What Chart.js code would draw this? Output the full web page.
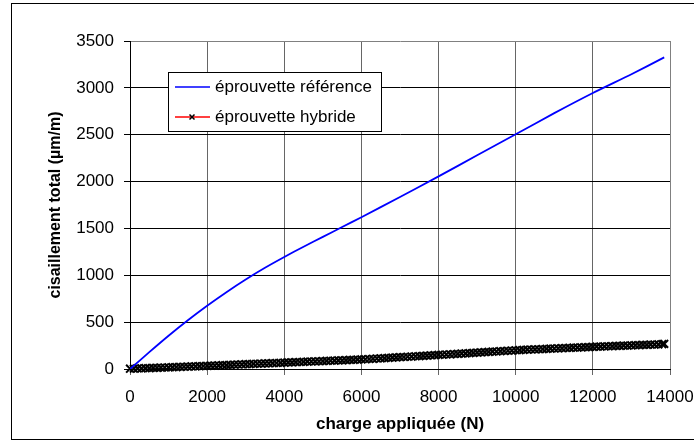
<!DOCTYPE html>
<html>
<head>
<meta charset="utf-8">
<script src="https://cdn.jsdelivr.net/npm/chart.js@4"></script>
<style>
  body { margin: 0; background: #fff; }
  canvas { display: block; }
</style>
</head>
<body>
<canvas id="chart" width="694" height="442"></canvas>
<script>
// axis ticks
const xTicks = [0, 2000, 4000, 6000, 8000, 10000, 12000, 14000];
const yTicks = [0, 500, 1000, 1500, 2000, 2500, 3000, 3500];

// éprouvette référence (N, µm/m)
const refLoad = [0, 500, 1000, 1500, 2000, 2500, 3000, 3500, 4000, 4500,
  5000, 5500, 6000, 7000, 8000, 9000, 10000, 11000, 12000, 13000, 13850];
const refShear = [0, 180, 355, 520, 675, 820, 955, 1080, 1195, 1305,
  1410, 1515, 1620, 1835, 2055, 2280, 2505, 2730, 2945, 3145, 3325];

// éprouvette hybride (N, µm/m) - dense measurement points
const hybLoad = [
  0, 100, 200, 300, 400, 500, 600, 700, 800, 900,
  1000, 1100, 1200, 1300, 1400, 1500, 1600, 1700, 1800, 1900,
  2000, 2100, 2200, 2300, 2400, 2500, 2600, 2700, 2800, 2900,
  3000, 3100, 3200, 3300, 3400, 3500, 3600, 3700, 3800, 3900,
  4000, 4100, 4200, 4300, 4400, 4500, 4600, 4700, 4800, 4900,
  5000, 5100, 5200, 5300, 5400, 5500, 5600, 5700, 5800, 5900,
  6000, 6100, 6200, 6300, 6400, 6500, 6600, 6700, 6800, 6900,
  7000, 7100, 7200, 7300, 7400, 7500, 7600, 7700, 7800, 7900,
  8000, 8100, 8200, 8300, 8400, 8500, 8600, 8700, 8800, 8900,
  9000, 9100, 9200, 9300, 9400, 9500, 9600, 9700, 9800, 9900,
  10000, 10100, 10200, 10300, 10400, 10500, 10600, 10700, 10800, 10900,
  11000, 11100, 11200, 11300, 11400, 11500, 11600, 11700, 11800, 11900,
  12000, 12100, 12200, 12300, 12400, 12500, 12600, 12700, 12800, 12900,
  13000, 13100, 13200, 13300, 13400, 13500, 13600, 13700, 13800, 13850
];
const hybShear = [
  3, 4, 6, 7, 9, 10, 12, 13, 15, 16,
  18, 19, 21, 23, 24, 26, 27, 29, 31, 32,
  34, 36, 37, 39, 41, 42, 44, 46, 48, 49,
  51, 53, 54, 56, 58, 59, 61, 63, 64, 66,
  68, 70, 71, 73, 75, 76, 78, 80, 81, 83,
  85, 87, 88, 90, 92, 93, 95, 97, 98, 100,
  102, 104, 107, 109, 112, 114, 116, 119, 121, 124,
  126, 128, 131, 133, 136, 138, 140, 143, 145, 148,
  150, 152, 155, 157, 160, 162, 165, 167, 170, 172,
  175, 177, 180, 182, 185, 187, 190, 192, 195, 197,
  200, 202, 204, 206, 208, 210, 211, 213, 215, 217,
  219, 221, 222, 224, 226, 228, 229, 231, 233, 234,
  236, 238, 239, 241, 243, 244, 246, 247, 249, 250,
  252, 254, 255, 257, 258, 260, 261, 263, 266, 268
];

const FONT = "'Liberation Sans', Arial, sans-serif";

// frame round the whole chart + legend box inside the plot
const framePlugin = {
  id: 'frame',
  beforeDraw(chart) {
    const ctx = chart.ctx;
    ctx.save();
    ctx.fillStyle = '#fff';
    ctx.fillRect(0, 0, chart.width, chart.height);
    ctx.strokeStyle = '#000';
    ctx.lineWidth = 1;
    ctx.strokeRect(11.5, 3.5, 700, 436);
    ctx.restore();
  },
  afterDraw(chart) {
    const ctx = chart.ctx;
    const ds = chart.data.datasets;
    ctx.save();
    ctx.fillStyle = '#fff';
    ctx.fillRect(168.5, 72.5, 213, 59);
    ctx.strokeStyle = '#000';
    ctx.lineWidth = 1;
    ctx.strokeRect(168.5, 72.5, 213, 59);
    const rows = [87, 117];
    ds.forEach((d, i) => {
      const y = rows[i];
      ctx.strokeStyle = d.borderColor;
      ctx.lineWidth = 1.5;
      ctx.beginPath();
      ctx.moveTo(175, y);
      ctx.lineTo(210, y);
      ctx.stroke();
      if (d.pointStyle === 'crossRot') {
        ctx.strokeStyle = d.pointBorderColor;
        ctx.lineWidth = 1.5;
        ctx.beginPath();
        ctx.moveTo(189.5, y - 2.5); ctx.lineTo(194.5, y + 2.5);
        ctx.moveTo(194.5, y - 2.5); ctx.lineTo(189.5, y + 2.5);
        ctx.stroke();
      }
      ctx.fillStyle = '#000';
      ctx.font = '17px ' + FONT;
      ctx.textBaseline = 'middle';
      ctx.textAlign = 'left';
      ctx.fillText(d.label, 215, y);
    });
    ctx.restore();
  }
};

new Chart(document.getElementById('chart'), {
  type: 'line',
  data: {
    datasets: [
      {
        label: 'éprouvette référence',
        data: refLoad.map((x, i) => ({ x: x, y: refShear[i] })),
        borderColor: '#0000ff',
        borderWidth: 1.8,
        pointRadius: 0,
        tension: 0.2,
        fill: false
      },
      {
        label: 'éprouvette hybride',
        data: hybLoad.map((x, i) => ({ x: x, y: hybShear[i] })),
        borderColor: '#ff0000',
        showLine: false,
        pointStyle: 'crossRot',
        pointRadius: 5.5,
        pointBorderWidth: 2,
        pointBorderColor: '#000',
        pointBackgroundColor: '#000',
        clip: 8,
        fill: false
      }
    ]
  },
  options: {
    responsive: false,
    animation: false,
    devicePixelRatio: 1,
    layout: { padding: { left: 11, top: 41, right: 24, bottom: 0 } },
    plugins: {
      legend: { display: false },
      tooltip: { enabled: false }
    },
    scales: {
      x: {
        type: 'linear',
        min: 0,
        max: 14000,
        afterBuildTicks: (scale) => { scale.ticks = xTicks.map(v => ({ value: v })); },
        afterFit: (scale) => {
          scale.height = 73;
          scale.paddingLeft = 0;
          scale.paddingRight = 0;
        },
        border: { color: '#000', width: 1 },
        grid: {
          color: (c) => (c.tick && c.tick.value === 14000 ? '#808080' : '#666'),
          tickColor: '#666',
          tickLength: 6
        },
        ticks: {
          color: '#000',
          padding: 12,
          maxRotation: 0,
          callback: (v) => String(v),
          font: { family: FONT, size: 17 }
        },
        title: {
          display: true,
          text: 'charge appliquée (N)',
          color: '#000',
          padding: { top: 0, bottom: 7 },
          font: { family: FONT, size: 17, weight: 'bold' }
        }
      },
      y: {
        min: 0,
        max: 3500,
        afterBuildTicks: (scale) => { scale.ticks = yTicks.map(v => ({ value: v })); },
        afterFit: (scale) => { scale.width = 119; },
        border: { color: '#000', width: 1 },
        grid: {
          color: (c) => (c.tick && c.tick.value === 3500 ? '#808080' : '#000'),
          tickColor: '#000',
          tickLength: 6
        },
        ticks: {
          color: '#000',
          padding: 10,
          callback: (v) => String(v),
          font: { family: FONT, size: 17 }
        },
        title: {
          display: true,
          text: 'cisaillement total (µm/m)',
          color: '#000',
          padding: { top: 35, bottom: 0 },
          font: { family: FONT, size: 16, weight: 'bold' }
        }
      }
    }
  },
  plugins: [framePlugin]
});
</script>
</body>
</html>
